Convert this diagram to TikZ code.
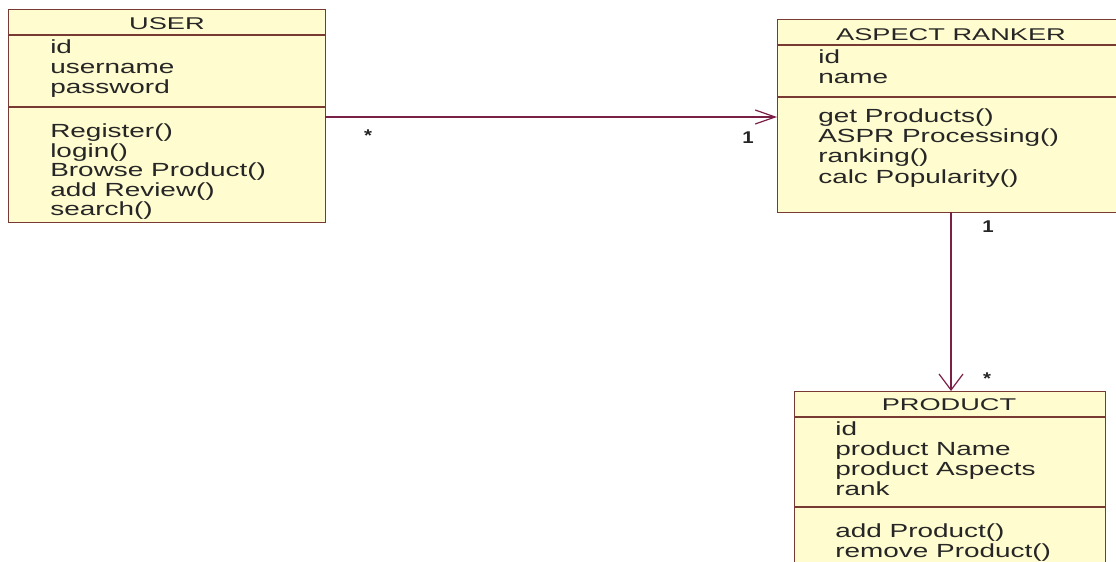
\documentclass[tikz,border=0pt]{standalone}
\usepackage{fontspec}
\setmainfont{Liberation Sans}
\usetikzlibrary{arrows.meta}
\definecolor{boxfill}{HTML}{FFFCCF}
\definecolor{boxline}{HTML}{7A3A34}
\definecolor{conn}{HTML}{7A1F45}
\tikzset{
  classbox/.style={draw=boxline, fill=boxfill, line width=1.2pt, inner sep=0pt, anchor=north west},
  sepline/.style={draw=boxline, line width=1.2pt},
  txt/.style={font=\fontsize{19}{22}\selectfont, inner sep=0pt, anchor=base west, text=black!85, xscale=1.47, transform shape},
  ttl/.style={font=\fontsize{17}{20}\selectfont, inner sep=0pt, anchor=base, text=black!85, xscale=1.6, transform shape},
  mult/.style={font=\fontsize{17}{18}\selectfont\bfseries, inner sep=0pt, anchor=base, text=black!85, xscale=1.2, transform shape},
  assoc/.style={draw=conn, line width=1.2pt},
}
\begin{document}
\begin{tikzpicture}[x=1pt,y=-1pt]
\clip (0,0) rectangle (1116,562);
\fill[white] (0,0) rectangle (1116,562);
% USER
\node[classbox, minimum width=317pt, minimum height=213pt] (user) at (8,9) {};
\draw[sepline] (8,35) -- (325,35);
\draw[sepline] (8,107) -- (325,107);
\node[ttl] (ut) at (167,29) {USER};
\node[txt] (u1) at (50,53) {id};
\node[txt] (u2) at (50,73) {username};
\node[txt] (u3) at (50,93) {password};
\node[txt] (u4) at (50,137) {Register()};
\node[txt] (u5) at (50,157) {login()};
\node[txt] (u6) at (50,176) {Browse Product()};
\node[txt] (u7) at (50,196) {add Review()};
\node[txt] (u8) at (50,215) {search()};
% ASPECT RANKER
\node[classbox, minimum width=348pt, minimum height=193pt] (ranker) at (777,19) {};
\draw[sepline] (777,45) -- (1125,45);
\draw[sepline] (777,97) -- (1125,97);
\node[ttl] (rt) at (951,40) {ASPECT RANKER};
\node[txt] (r1) at (818,63) {id};
\node[txt] (r2) at (818,83) {name};
\node[txt] (r3) at (818,122) {get Products()};
\node[txt] (r4) at (818,142) {ASPR Processing()};
\node[txt] (r5) at (818,162) {ranking()};
\node[txt] (r6) at (818,183) {calc Popularity()};
% PRODUCT
\node[classbox, minimum width=311pt, minimum height=190pt] (product) at (794,391) {};
\draw[sepline] (794,417) -- (1105,417);
\draw[sepline] (794,507) -- (1105,507);
\node[ttl] (pt) at (949,410) {PRODUCT};
\node[txt] (p1) at (835,435) {id};
\node[txt] (p2) at (835,455) {product Name};
\node[txt] (p3) at (835,475) {product Aspects};
\node[txt] (p4) at (835,495) {rank};
\node[txt] (p5) at (835,537) {add Product()};
\node[txt] (p6) at (835,557) {remove Product()};
% connectors
\coordinate (a1) at (325,117);
\coordinate (a2) at (777,117);
\draw[assoc, -{Straight Barb[length=20pt,width=14pt,line width=1.2pt]}] (a1) -- (a2);
\coordinate (b1) at (951,212);
\coordinate (b2) at (951,391);
\draw[assoc, -{Straight Barb[length=16pt,width=24pt,line width=1.2pt]}] (b1) -- (b2);
% multiplicities
\node[mult] (m1) at (368,141) {*};
\node[mult] (m2) at (748,143) {1};
\node[mult] (m3) at (988,232) {1};
\node[mult] (m4) at (987,384) {*};
\end{tikzpicture}
\end{document}
